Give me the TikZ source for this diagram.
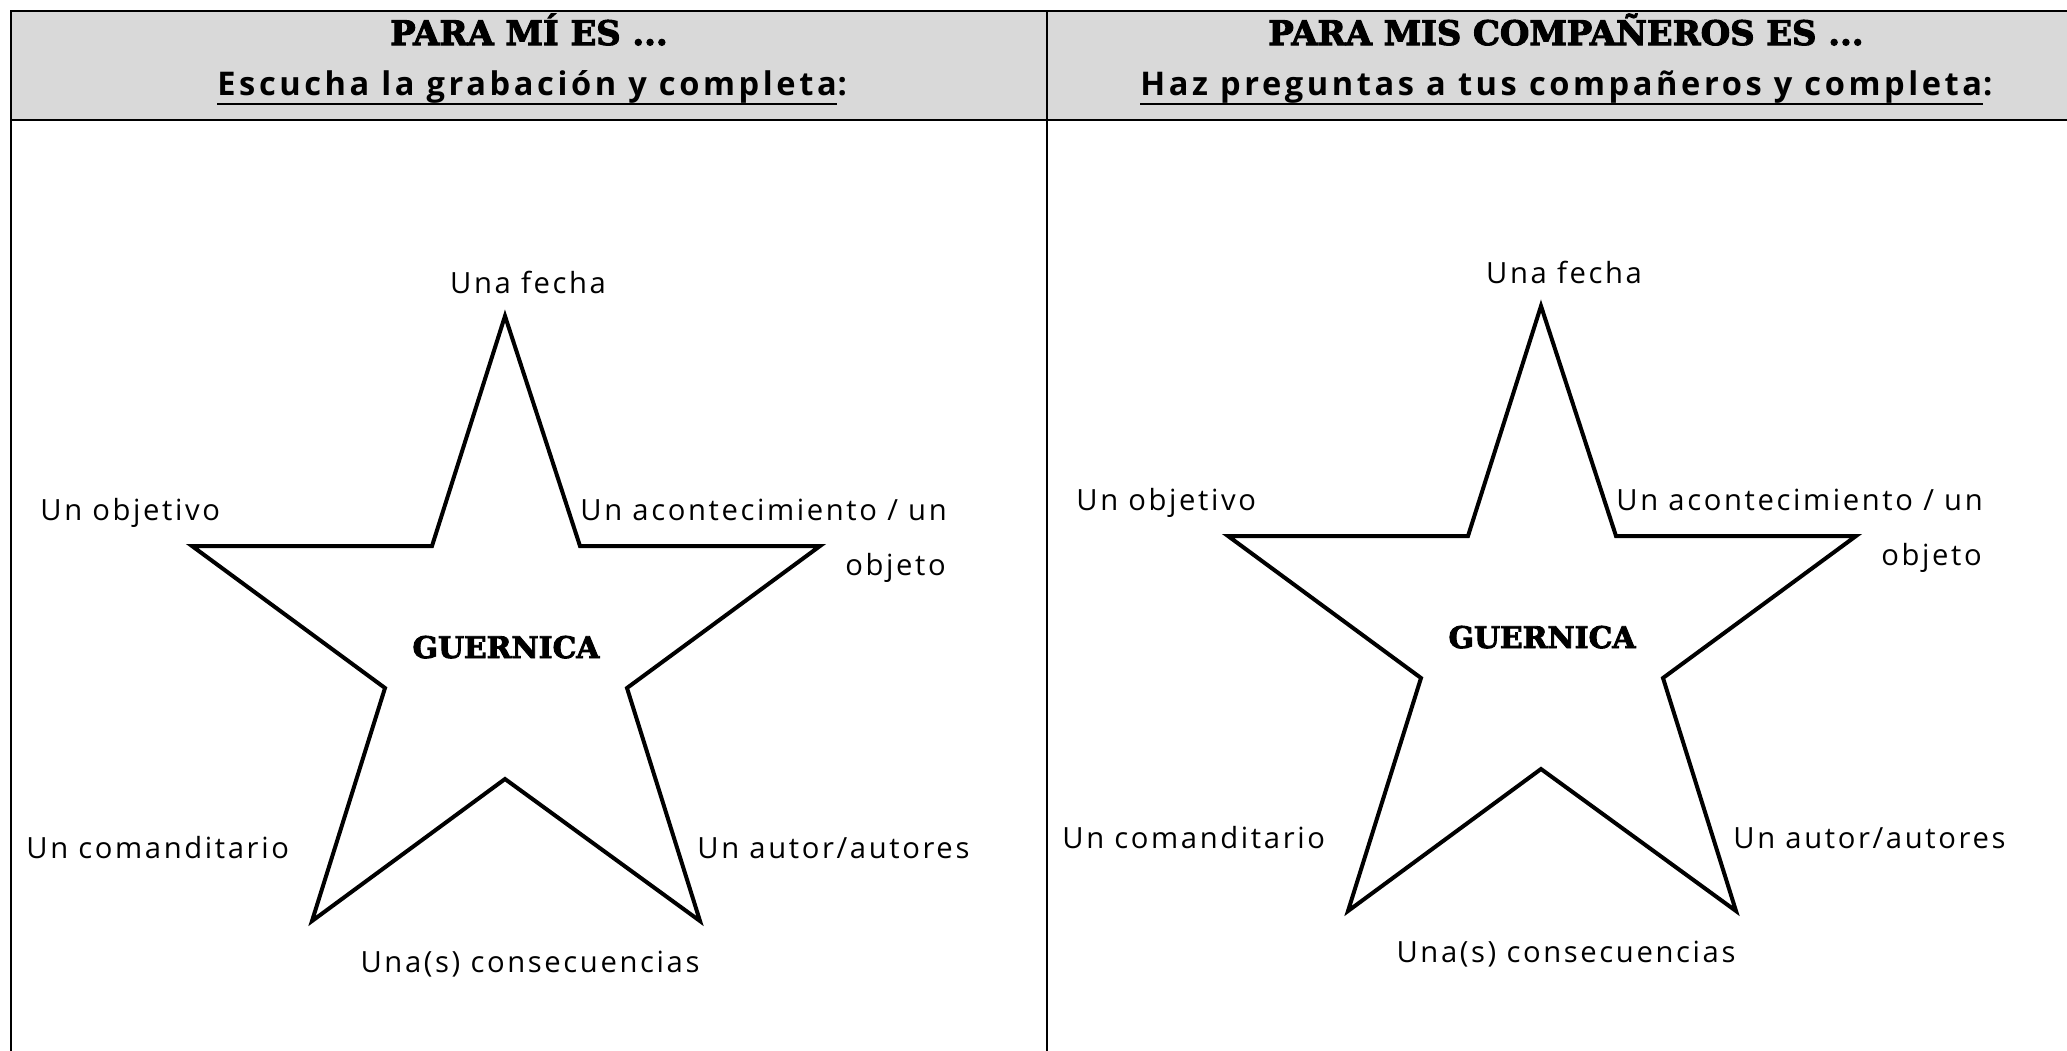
\documentclass[tikz,border=0pt]{standalone}
\usepackage{fontspec}
\IfFontExistsTF{Open Sans}{\newfontfamily\handfont{Open Sans}[LetterSpace=9]}{\newfontfamily\handfont{DejaVu Sans}}
\IfFontExistsTF{Open Sans SemiBold}{\newfontfamily\taskfont{Open Sans SemiBold}[LetterSpace=11.5]}{\newfontfamily\taskfont{Open Sans Bold}[LetterSpace=11]}
\newfontfamily\titlefont{DejaVu Serif}[UprightFont={* Bold}, FakeBold=3]
\definecolor{headgrey}{HTML}{D9D9D9}

\tikzset{
	tablerule/.style={line width=1.2pt},
	starline/.style={line width=2pt, line join=miter},
	starlabel/.style={inner sep=0pt, font=\handfont\fontsize{14.6}{17}\selectfont},
	titletext/.style={inner sep=0pt, font=\titlefont\fontsize{16.9}{20}\selectfont},
	tasktext/.style={inner sep=0pt, font=\taskfont\fontsize{16.3}{19}\selectfont},
	centretext/.style={inner sep=0pt, font=\titlefont\fontsize{14.9}{17}\selectfont},
	underrule/.style={line width=1pt}
}

%star with its six prompts, #1 = prefix of the node names
\newcommand{\guernicastar}[1]{
	\draw[starline] (505,316) -- (580,546) -- (820,546) -- (627,688) -- (700,921) -- (505,779) -- (312,921) -- (385,688) -- (192,546) -- (432,546) -- cycle;
	\node[centretext, anchor=base] (#1centre) at (506,658) {GUERNICA};
	\node[starlabel, anchor=base] (#1date) at (528,293) {Una fecha};
	\node[starlabel, anchor=base west] (#1goal) at (40,520) {Un objetivo};
	\node[starlabel, anchor=base west] (#1event) at (580,520) {Un acontecimiento / un};
	\node[starlabel, anchor=base west] (#1object) at (845,575) {objeto};
	\node[starlabel, anchor=base west] (#1sponsor) at (26,858) {Un comanditario};
	\node[starlabel, anchor=base west] (#1author) at (697,858) {Un autor/autores};
	\node[starlabel, anchor=base] (#1result) at (530,972) {Una(s) consecuencias};
}

\begin{document}
\begin{tikzpicture}[x=0.5pt, y=-0.5pt]
	\useasboundingbox (0,0) rectangle (2067,1050);
	%table: grey header row and rules
	\fill[headgrey] (11,11) rectangle (2070,120);
	\draw[tablerule] (2070,11) -- (11,11) -- (11,1052);
	\draw[tablerule] (11,120) -- (2070,120);
	\draw[tablerule] (1047,11) -- (1047,1052);
	
	%headers
	\node[titletext, anchor=base] (titleme) at (529,45) {PARA MÍ ES ...};
	\node[tasktext, anchor=base west] (taskme) at (217,95) {Escucha la grabación y completa};
	\node[tasktext, anchor=base west] (colonme) at (taskme.base east) {:};
	\draw[underrule] ([yshift=-4.5pt]taskme.base west) -- ([yshift=-4.5pt]taskme.base east);
	\node[titletext, anchor=base] (titleothers) at (1566,45) {PARA MIS COMPAÑEROS ES ...};
	\node[tasktext, anchor=base west] (taskothers) at (1140,95) {Haz preguntas a tus compañeros y completa};
	\node[tasktext, anchor=base west] (colonothers) at (taskothers.base east) {:};
	\draw[underrule] ([yshift=-4.5pt]taskothers.base west) -- ([yshift=-4.5pt]taskothers.base east);
	
	%left star
	\guernicastar{l}
	%right star, a little higher
	\begin{scope}[shift={(1036,-10)}]
		\guernicastar{r}
	\end{scope}
\end{tikzpicture}
\end{document}
